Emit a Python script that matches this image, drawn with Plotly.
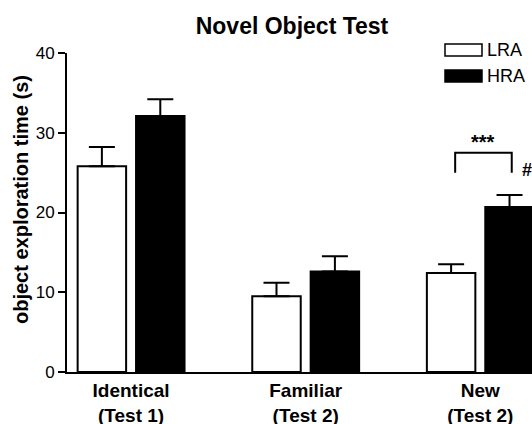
import plotly.graph_objects as go

categories = ["Identical<br>(Test 1)", "Familiar<br>(Test 2)", "New<br>(Test 2)"]
lra_mean = [25.8, 9.5, 12.4]
lra_sem = [2.4, 1.7, 1.1]
hra_mean = [32.1, 12.6, 20.7]
hra_sem = [2.1, 1.9, 1.5]
series_names = ["LRA", "HRA"]
title_text = "Novel Object Test"
y_title = "object exploration time (s)"
y_ticks = [0, 10, 20, 30, 40]

FONT = "Liberation Sans, Arial, sans-serif"
W, H = 532, 424
L, R, T, B = 67, 0, 53, 52
PW, PH = W - L - R, H - T - B

def px(x):
    return (x - L) / PW

def py(y):
    return (H - B - y) / PH

fig = go.Figure()
fig.add_trace(go.Bar(
    x=categories, y=lra_mean, name=series_names[0],
    marker=dict(color="white", line=dict(color="black", width=2)),
    error_y=dict(type="data", array=lra_sem, arrayminus=[0] * 3, symmetric=False,
                 color="black", thickness=2, width=13),
))
fig.add_trace(go.Bar(
    x=categories, y=hra_mean, name=series_names[1],
    marker=dict(color="black", line=dict(color="black", width=2)),
    error_y=dict(type="data", array=hra_sem, arrayminus=[0] * 3, symmetric=False,
                 color="black", thickness=2, width=13),
))

fig.update_layout(
    width=W, height=H,
    margin=dict(l=L, r=R, t=T, b=B, autoexpand=False),
    paper_bgcolor="white", plot_bgcolor="white",
    barmode="group", bargap=0.331, bargroupgap=0.17,
    showlegend=False,
    font=dict(family=FONT, color="black"),
    title=dict(text=title_text, x=292 / W, xanchor="center", y=1 - 26 / H, yanchor="middle",
               font=dict(size=23, family=FONT, weight="bold", color="black")),
    xaxis=dict(range=[-0.367, 2.296], showline=True, linecolor="black", linewidth=2,
               ticks="", showgrid=False, zeroline=False,
               tickfont=dict(size=19, family=FONT, weight="bold", color="black")),
    yaxis=dict(range=[0, 40], tickvals=y_ticks, showline=True, linecolor="black", linewidth=2,
               ticks="outside", ticklen=7, tickwidth=2, tickcolor="black",
               showgrid=False, zeroline=False,
               tickfont=dict(size=17, family=FONT, color="black")),
)

# y axis title
fig.add_annotation(text=y_title, textangle=-90, xref="paper", yref="paper",
                   x=px(21), y=py(200), xanchor="center", yanchor="middle", showarrow=False,
                   font=dict(size=20, family=FONT, weight="bold", color="black"))

# legend
for i, (name, fill) in enumerate(zip(series_names, ["white", "black"])):
    top = 44 + i * 26
    fig.add_shape(type="rect", xref="paper", yref="paper",
                  x0=px(445), x1=px(482), y0=py(top), y1=py(top + 12),
                  fillcolor=fill, line=dict(color="black", width=1.5))
    fig.add_annotation(text=name, xref="paper", yref="paper", x=px(485), y=py(top + 6),
                       xanchor="left", yanchor="middle", showarrow=False,
                       font=dict(size=18, family=FONT, color="black"))

# significance bracket
fig.add_shape(type="path", xref="x", yref="y",
              path="M 1.856 25.0 L 1.856 27.5 L 2.18 27.5 L 2.18 25.0",
              line=dict(color="black", width=2))
fig.add_annotation(text="***", xref="x", yref="y", x=2.018, y=28.9,
                   showarrow=False, font=dict(size=20, family=FONT, weight="bold", color="black"))
fig.add_annotation(text="#", xref="x", yref="y", x=2.27, y=25.3,
                   showarrow=False, font=dict(size=18, family=FONT, weight="bold", color="black"))

fig.write_html("out.html", config={"displayModeBar": False},
               post_script="document.body.style.margin='0';document.body.style.overflow='hidden';")
